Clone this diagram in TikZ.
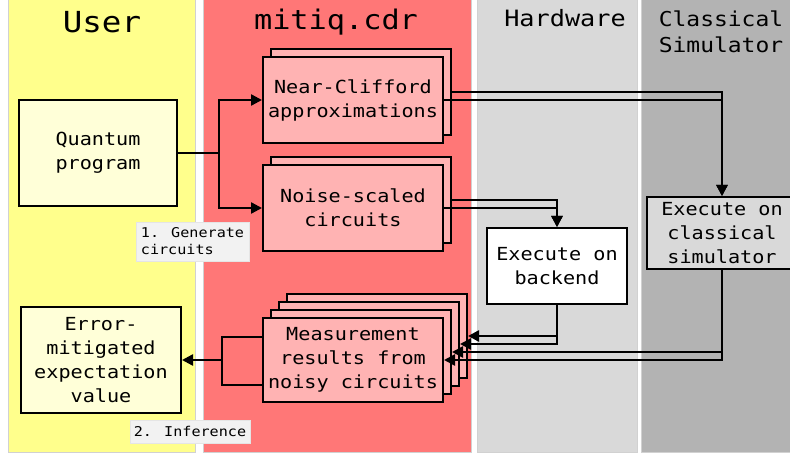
\documentclass[tikz,border=0pt]{standalone}
\usepackage{fontspec}
\newfontfamily\mono[FakeStretch=1.12]{DejaVu Sans Mono}
\usetikzlibrary{arrows.meta}
\definecolor{laneY}{HTML}{FFFF8C}
\definecolor{laneR}{HTML}{FF7777}
\definecolor{laneH}{HTML}{D9D9D9}
\definecolor{laneC}{HTML}{B3B3B3}
\definecolor{boxY}{HTML}{FFFFD8}
\definecolor{boxR}{HTML}{FFB3B3}
\definecolor{tagG}{HTML}{F2F2F2}
\begin{document}
\begin{tikzpicture}[x=1pt,y=-1pt,
  lane/.style={draw=black!18, line width=0.8pt},
  title/.style={align=center, inner sep=0pt},
  box/.style={draw=black, line width=2pt, inner sep=0pt, align=center,
    font=\mono\fontsize{18}{24}\selectfont},
  conn/.style={line width=2.4pt},
  arr/.style={conn, -{Triangle[length=11pt,width=11pt]}},
  tag/.style={fill=tagG, draw=black!10, line width=0.6pt, inner sep=0pt, align=left,
    font=\mono\fontsize{13.5}{17}\selectfont}
]
\useasboundingbox (0,0) rectangle (790,454);
\fill[white] (0,0) rectangle (790,454);
% lanes
\draw[lane, fill=laneY] (8,-2) rectangle (195,452);
\draw[lane, fill=laneR] (203,-2) rectangle (471,452);
\draw[lane, fill=laneH] (477,-2) rectangle (637,452);
\draw[lane, fill=laneC] (641,-2) rectangle (800,452);
% titles
\node[title, font=\mono\fontsize{29}{30}\selectfont, anchor=base] (tu) at (102,33) {User};
\node[title, font=\mono\fontsize{27}{30}\selectfont, anchor=base] (tm) at (336,30) {mitiq.cdr};
\node[title, font=\mono\fontsize{22.5}{26}\selectfont, anchor=base] (th) at (565,27) {Hardware};
\node[title, font=\mono\fontsize{20.5}{26}\selectfont, anchor=base] (tc1) at (721,27) {Classical};
\node[title, font=\mono\fontsize{20.5}{26}\selectfont, anchor=base] (tc2) at (721,53) {Simulator};
% tags
\node[tag, minimum width=113pt, minimum height=39pt] (gen) at (192.5,241.5) {1. Generate\\circuits};
\node[tag, minimum width=120pt, minimum height=23pt] (inf) at (190,431.5) {2. Inference};
% user boxes
\node[box, fill=boxY, minimum width=158pt, minimum height=106pt] (qp) at (98,153) {Quantum\\program};
\node[box, fill=boxY, minimum width=160pt, minimum height=106pt] (em) at (101,360) {Error-\\mitigated\\expectation\\value};
% mitiq boxes
\node[box, fill=boxR, minimum width=180pt, minimum height=86pt] (nc2) at (361,92) {};
\node[box, fill=boxR, minimum width=180pt, minimum height=86pt] (nc1) at (353,100) {Near-Clifford\\approximations};
\node[box, fill=boxR, minimum width=180pt, minimum height=86pt] (ns2) at (361,200) {};
\node[box, fill=boxR, minimum width=180pt, minimum height=86pt] (ns1) at (353,208) {Noise-scaled\\circuits};
\node[box, fill=boxR, minimum width=180pt, minimum height=84pt] (m4) at (377,336) {};
\node[box, fill=boxR, minimum width=180pt, minimum height=84pt] (m3) at (369,344) {};
\node[box, fill=boxR, minimum width=180pt, minimum height=84pt] (m2) at (361,352) {};
\node[box, fill=boxR, minimum width=180pt, minimum height=84pt] (m1) at (353,360) {Measurement\\results from\\noisy circuits};
% hardware / simulator
\node[box, fill=white, minimum width=140pt, minimum height=76pt] (be) at (557,266) {Execute on\\backend};
\node[box, fill=laneH, minimum width=150pt, minimum height=72pt] (sim) at (722,233) {Execute on\\classical\\simulator};
% connectors
\coordinate (split) at (219,153);
\draw[conn] (qp.east) -- (split);
\draw[arr] (split) |- (nc1.west);
\draw[arr] (split) |- (ns1.west);
\draw[arr] (nc2.east) -| (sim.north);
\draw[arr] (nc1.east) -| (sim.north);
\draw[arr] (ns2.east) -| (be.north);
\draw[arr] (ns1.east) -| (be.north);
\draw[arr] (be.south) |- (m3.east);
\draw[arr] (be.south) |- (m4.east);
\draw[arr] (sim.south) |- (m1.east);
\draw[arr] (sim.south) |- (m2.east);
\coordinate (join) at (222,360);
\draw[conn] ([yshift=23pt]m1.west) -| (join);
\draw[conn] ([yshift=-25pt]m1.west) -| (join);
\draw[arr] (join) -- (em.east);
\end{tikzpicture}
\end{document}
